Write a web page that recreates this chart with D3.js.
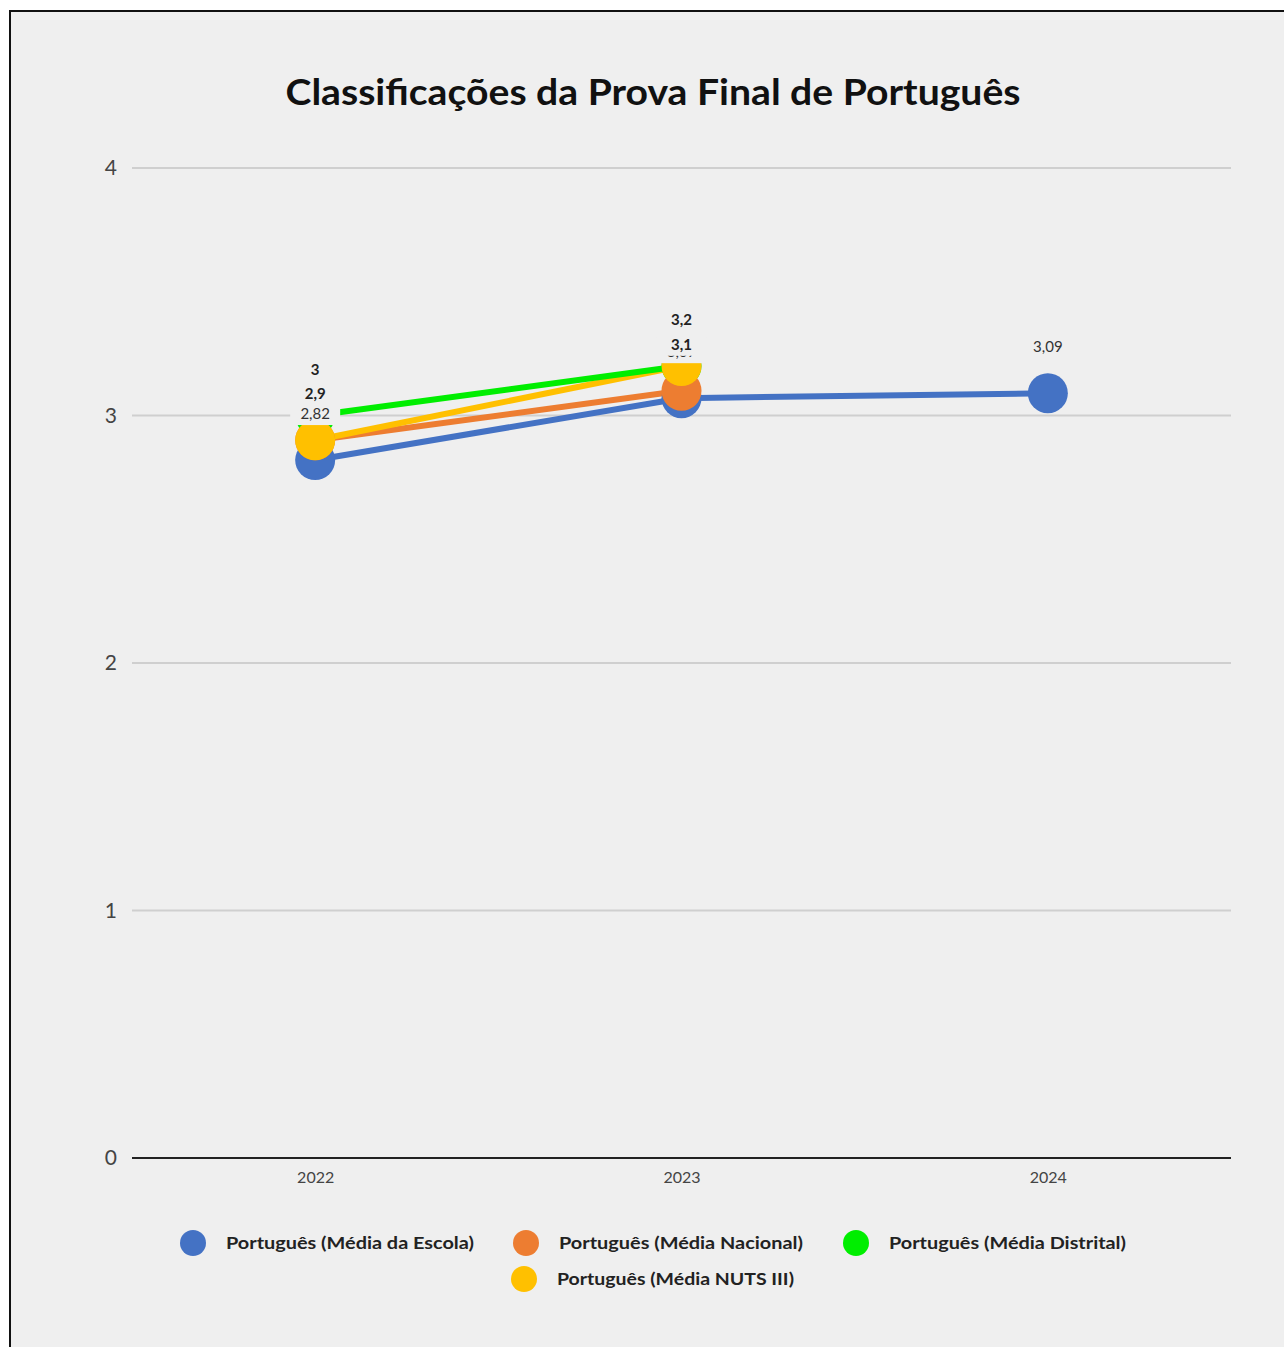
<!DOCTYPE html>
<html>
<head>
<meta charset="utf-8">
<script src="https://cdn.jsdelivr.net/npm/d3@7"></script>
<style>
html,body{margin:0;padding:0;background:#ffffff;}
svg{display:block;}
</style>
</head>
<body>
<svg id="chart" width="1284" height="1347"></svg>
<script>
const title = "Classificações da Prova Final de Português";
const years = ["2022", "2023", "2024"];
const yTicks = [0, 1, 2, 3, 4];
const seriesNames = [
  "Português (Média da Escola)",
  "Português (Média Nacional)",
  "Português (Média Distrital)",
  "Português (Média NUTS III)"
];
const seriesColors = ["#4472c4", "#ed7d31", "#00ee00", "#ffc000"];
const escola = [2.82, 3.07, 3.09];
const nacional = [2.9, 3.1, null];
const distrital = [3.0, 3.2, null];
const nuts = [2.9, 3.2, null];
const labelTexts = [
  ["2,82", "3,07", "3,09"],
  ["2,9", "3,1", null],
  ["3", "3,2", null],
  ["2,9", "3,2", null]
];
const seriesValues = [escola, nacional, distrital, nuts];

const svg = d3.select("#chart");
const font = "Lato, 'Open Sans', sans-serif";
const bg = "#efefef";

// frame
svg.append("rect").attr("x", 10).attr("y", 11).attr("width", 1290).attr("height", 1350)
  .attr("fill", bg).attr("stroke", "#111").attr("stroke-width", 2);

// title
svg.append("text").attr("x", 653).attr("y", 105).attr("text-anchor", "middle")
  .attr("font-family", font).attr("font-weight", "bold").attr("font-size", 36)
  .attr("textLength", 735).attr("lengthAdjust", "spacingAndGlyphs")
  .attr("fill", "#111").text(title);

const x = d3.scalePoint().domain(years).range([132, 1231]).padding(0.5);
const y = d3.scaleLinear().domain([0, 4]).range([1158, 168]);

// grid
const grid = svg.append("g");
grid.selectAll("line").data(yTicks.filter(d => d > 0)).join("line")
  .attr("x1", 132).attr("x2", 1231)
  .attr("y1", d => y(d)).attr("y2", d => y(d))
  .attr("stroke", "#cfcfcf").attr("stroke-width", 2);

// y axis labels
const yAxis = d3.axisLeft(y).tickValues(yTicks).tickSize(0).tickPadding(0).tickFormat(d3.format("d"));
const yg = svg.append("g").attr("transform", "translate(117,0)").call(yAxis);
yg.select(".domain").remove();
yg.selectAll("text").attr("font-family", font).attr("font-size", 21).attr("fill", "#444");

// x axis
const xAxis = d3.axisBottom(x).tickSize(0).tickPadding(14);
const xg = svg.append("g").attr("transform", `translate(0,${y(0)})`).call(xAxis);
xg.select(".domain").attr("d", "M132,0H1231").attr("stroke", "#222").attr("stroke-width", 2);
xg.selectAll("text").attr("font-family", font).attr("font-size", 16).attr("fill", "#444");

// lines
const line = d3.line().defined(d => d.v !== null).x(d => x(d.year)).y(d => y(d.v));
const lineOrder = [0, 1, 3, 2];
lineOrder.forEach(i => {
  const data = years.map((yr, j) => ({year: yr, v: seriesValues[i][j]}));
  svg.append("path").datum(data).attr("d", line)
    .attr("fill", "none").attr("stroke", seriesColors[i]).attr("stroke-width", 6)
    .attr("stroke-linejoin", "round");
});

function drawLabels(i) {
  const data = years.map((yr, j) => ({year: yr, v: seriesValues[i][j], t: labelTexts[i][j]})).filter(d => d.v !== null);
  const g = svg.append("g");
  const lg = g.selectAll("g").data(data).join("g")
    .attr("transform", d => `translate(${x(d.year)},${y(d.v) - 41})`);
  lg.append("rect").attr("x", d => -d.t.length * 5 - 5).attr("y", -20)
    .attr("width", d => d.t.length * 10 + 10).attr("height", 26)
    .attr("fill", bg);
  lg.append("text").attr("text-anchor", "middle")
    .attr("font-family", font).attr("font-size", 15)
    .attr("font-weight", i === 0 ? "normal" : "bold")
    .attr("fill", i === 0 ? "#333" : "#222")
    .text(d => d.t);
}
function drawMarkers(i) {
  const data = years.map((yr, j) => ({year: yr, v: seriesValues[i][j]})).filter(d => d.v !== null);
  svg.append("g").selectAll("circle").data(data).join("circle")
    .attr("cx", d => x(d.year)).attr("cy", d => y(d.v)).attr("r", 20)
    .attr("fill", seriesColors[i]);
}
drawMarkers(2);
drawMarkers(0);
drawMarkers(1);
drawMarkers(3);
drawLabels(0);
drawLabels(1);
drawLabels(3);
drawLabels(2);

// legend
const legendItems = [
  {i: 0, cx: 193, cy: 1243, w: 248},
  {i: 1, cx: 526, cy: 1243, w: 244},
  {i: 2, cx: 856, cy: 1243, w: 237},
  {i: 3, cx: 524, cy: 1279, w: 237}
];
const lgd = svg.append("g");
const li = lgd.selectAll("g").data(legendItems).join("g")
  .attr("transform", d => `translate(${d.cx},${d.cy})`);
li.append("circle").attr("r", 13).attr("fill", d => seriesColors[d.i]);
li.append("text").attr("x", 33).attr("y", 6)
  .attr("font-family", font).attr("font-weight", "bold").attr("font-size", 17)
  .attr("textLength", d => d.w).attr("lengthAdjust", "spacingAndGlyphs")
  .attr("fill", "#222").text(d => seriesNames[d.i]);
</script>
</body>
</html>
